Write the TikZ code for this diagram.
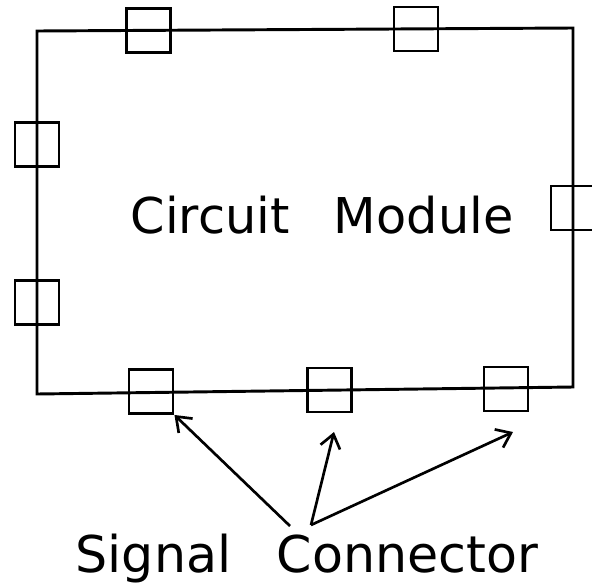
\documentclass[tikz,border=0pt]{standalone}
\usepackage{fontspec}
\setmainfont{DejaVu Sans}
\usepackage{tikz}
\usetikzlibrary{arrows.meta}
\tikzset{
	conn/.style={
		rectangle,
		draw=black,
		line width=2.2pt,
		minimum width=33pt,
		minimum height=33pt,
		inner sep=0pt
	},
	body/.style={
		draw=black,
		line width=2.2pt,
		line join=miter
	},
	title/.style={
		anchor=base,
		inner sep=0pt,
		font=\fontsize{37}{44}\selectfont
	},
	line/.style={-{Straight Barb[length=10pt,width=15pt]},line width=2pt}
}

\begin{document}
\begin{tikzpicture}[x=0.75pt,y=-0.75pt]
		\useasboundingbox (0,0) rectangle (592,586);
		% module outline
		\draw[body] (37,31) -- (573,28) -- (573,387) -- (37,394) -- cycle;
		\node[title] (module) at (322,233) {Circuit\hspace{0.9em}Module};
		% connectors
		\node[conn] (top1) at (148.5,30.5) {};
		\node[conn] (top2) at (416,29) {};
		\node[conn] (left1) at (37,144.5) {};
		\node[conn] (left2) at (37,302.5) {};
		\node[conn] (right) at (573,208) {};
		\node[conn] (bot1) at (151,391.5) {};
		\node[conn] (bot2) at (329.5,390) {};
		\node[conn] (bot3) at (506,389) {};
		% label and arrows
		\node[title,font=\fontsize{38}{46}\selectfont] (signal) at (307,572) {Signal\hspace{0.9em}Connector};
		\coordinate (src1) at (290,526);
		\coordinate (src2) at (311,525);
		\coordinate (tip2) at (334,432);
		\coordinate (tip3) at (513,432);
		\draw[line] (src1) -- (bot1.south east);
		\draw[line] (src2) -- (tip2);
		\draw[line] (src2) -- (tip3);
	\end{tikzpicture}
\end{document}
